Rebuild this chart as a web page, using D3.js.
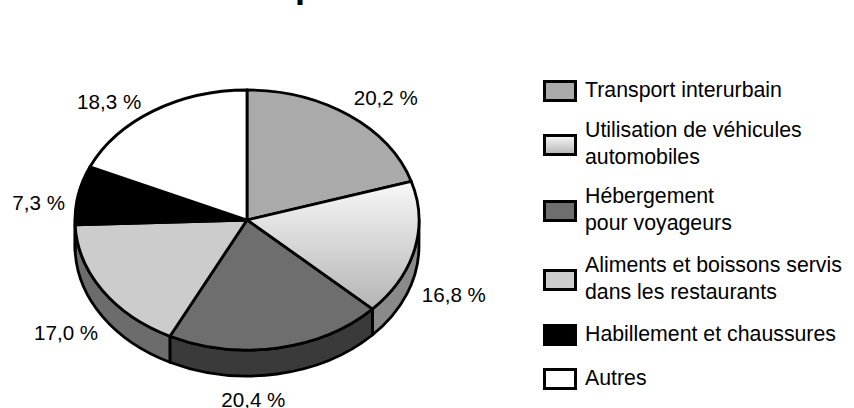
<!DOCTYPE html>
<html>
<head>
<meta charset="utf-8">
<script src="https://cdn.jsdelivr.net/npm/d3@7"></script>
<style>
	html, body { margin: 0; padding: 0; background: #fff; }
	svg { display: block; }
	text { font-family: "Liberation Sans", Arial, sans-serif; fill: #000; }
</style>
</head>
<body>
<div id="graph"></div>
<script>
const categories = [
	["Transport interurbain"],
	["Utilisation de véhicules", "automobiles"],
	["Hébergement", "pour voyageurs"],
	["Aliments et boissons servis", "dans les restaurants"],
	["Habillement et chaussures"],
	["Autres"]
];
const values = [20.2, 16.8, 20.4, 17.0, 7.3, 18.3];
const value_labels = ["20,2 %", "16,8 %", "20,4 %", "17,0 %", "7,3 %", "18,3 %"];

// look of each slice: top face, then the wall below it
const fills = ["#aaaaaa", "url(#shade)", "#6e6e6e", "#cccccc", "#000000", "#ffffff"];
const wall_fills = ["#888888", "#8a8a8a", "#3a3a3a", "#6c6c6c", "#000000", "#ffffff"];

const width = 854, height = 408;
const cx = 247, cy = 220, rx = 172, ry = 130, depth = 26;
const line_w = 2.8;
const value_font = 20.6, legend_font = 21.3;

// small corrections on top of the radial label position
const label_nudge = [[19, -2], [10, 41], [-29, 32], [-11, 31], [-10, 11], [-28, 7]];
const legend_y = [91, 145, 211, 280, 335, 379];

let graph = d3.select("#graph").append("svg").attr("width", width).attr("height", height);

let shade = graph.append("defs").append("linearGradient")
	.attr("id", "shade").attr("x1", 0).attr("y1", 0).attr("x2", 0).attr("y2", 1);
shade.append("stop").attr("offset", "0%").attr("stop-color", "#f8f8f8");
shade.append("stop").attr("offset", "100%").attr("stop-color", "#b4b4b4");

// title is cut by the top of the picture, only the descender shows
graph.append("text").attr("x", 295).attr("y", -3)
	.attr("font-size", 36).attr("font-weight", "bold").text("p");

let slices = d3.pie().sort(null).value(d => d)(values);

function px(a) { return rx * Math.sin(a); }
function py(a) { return -ry * Math.cos(a); }

let pie = graph.append("g").attr("transform", `translate(${cx},${cy})`);

// walls, only the front half of the ellipse can be seen
slices.forEach((s, i) => {
	let a0 = Math.max(s.startAngle, Math.PI / 2);
	let a1 = Math.min(s.endAngle, Math.PI * 3 / 2);
	if (a1 <= a0) return;
	let d = `M${px(a0)},${py(a0)} A${rx},${ry} 0 0 1 ${px(a1)},${py(a1)}`
		+ ` L${px(a1)},${py(a1) + depth} A${rx},${ry} 0 0 0 ${px(a0)},${py(a0) + depth} Z`;
	pie.append("path").attr("d", d)
		.attr("fill", wall_fills[i]).attr("stroke", "#000").attr("stroke-width", line_w)
		.attr("stroke-linejoin", "round");
});

// top face: circular arc squashed to an ellipse, stroke kept even
let arc = d3.arc().innerRadius(0).outerRadius(1);
pie.append("g").attr("transform", `scale(${rx},${ry})`)
	.selectAll("path").data(slices).join("path")
	.attr("d", arc)
	.attr("fill", (d, i) => fills[i])
	.attr("stroke", "#000").attr("stroke-width", line_w)
	.attr("stroke-linejoin", "round")
	.attr("vector-effect", "non-scaling-stroke");

graph.selectAll(".value").data(slices).join("text")
	.attr("class", "value")
	.attr("text-anchor", "middle").attr("dominant-baseline", "central")
	.attr("font-size", value_font)
	.attr("x", (d, i) => cx + (rx + 30) * Math.sin((d.startAngle + d.endAngle) / 2) + label_nudge[i][0])
	.attr("y", (d, i) => cy - (ry + 20) * Math.cos((d.startAngle + d.endAngle) / 2) + label_nudge[i][1])
	.text((d, i) => value_labels[i]);

let rows = graph.selectAll(".row").data(categories).join("g")
	.attr("class", "row")
	.attr("transform", (d, i) => `translate(543,${legend_y[i]})`);

rows.append("rect")
	.attr("x", 1.5).attr("y", -9.5).attr("width", 31).attr("height", 19)
	.attr("fill", (d, i) => fills[i])
	.attr("stroke", "#000").attr("stroke-width", 3);

rows.each(function(lines) {
	let row = d3.select(this);
	lines.forEach((t, j) => {
		row.append("text")
			.attr("x", 42)
			.attr("y", (j - (lines.length - 1) / 2) * 26.5 - 1.5)
			.attr("dominant-baseline", "central")
			.attr("font-size", legend_font)
			.text(t);
	});
});
</script>
</body>
</html>
